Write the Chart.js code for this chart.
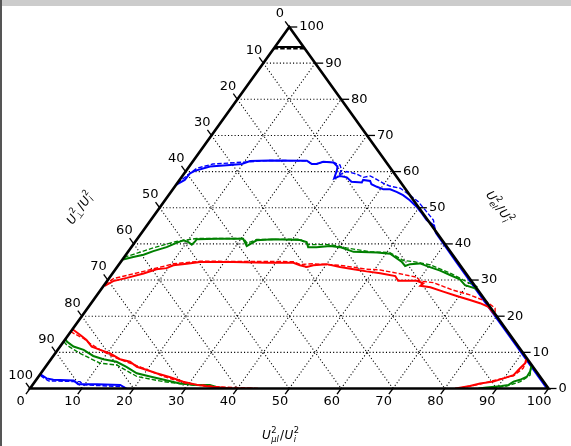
<!DOCTYPE html>
<html><head><meta charset="utf-8">
<script src="https://cdn.jsdelivr.net/npm/chart.js@4.4.0/dist/chart.umd.min.js"></script>
<style>
html,body{margin:0;padding:0;background:#fff;}
#wrap{position:relative;width:571px;height:446px;overflow:hidden;background:#fff;}
#topbar{position:absolute;left:0;top:0;width:571px;height:6px;background:#cccccc;}
#leftbar{position:absolute;left:0;top:0;width:2px;height:446px;background:#555555;}
canvas{position:absolute;left:0;top:0;}
</style></head><body>
<div id="wrap"><canvas id="c" width="571" height="446"></canvas><div id="topbar"></div><div id="leftbar"></div></div>
<script>
// ternary data: each point = [U2_mul/Ui2 (bottom axis, %), U2_el/Ui2 (right axis, %)]
const tickValues = [0,10,20,30,40,50,60,70,80,90,100];
const tickLabels = ['0','10','20','30','40','50','60','70','80','90','100'];
const gridValues = [10,20,30,40,50,60,70,80,90];

const blackSolid = [[0,94.5],[5.5,94.5]];
const blackDashed = [[0,94.0],[6.0,94.0]];

const blueSolidUpper = [[0,56.3],[1.0,57.7],[1.1,59.5],[1.7,60.2],[4.0,61.4],[7.7,61.8],[9.8,62.1],[11.0,62.9],[14.7,63.1],[21.9,63.0],[23.3,62.1],[24.2,62.1],[25.2,62.7],[27.3,62.5],[28.6,61.4],[29.0,60.4],[29.6,58.1],[30.4,58.8],[31.9,58.4],[33.4,57.2],[35.5,57.0],[35.4,57.7],[36.9,57.4],[37.6,56.5],[39.0,55.8],[40.6,55.1],[41.9,55.1],[43.5,54.4],[45.2,53.5],[47.2,52.1],[49.4,50.3],[51.3,48.5],[53.2,46.6],[55.2,45.2],[56.8,43.0],[64.7,35.0],[74.7,25.0],[84.7,15.0],[94.7,5.0],[99.4,0.3]];
const blueSolidLeft = [[18.6,0],[16.9,1.0],[12.3,1.2],[8.7,1.2],[7.3,2.2],[3.3,2.4],[1.8,2.8],[0.4,3.7],[0,4.0]];
const blueDashedUpper = [[0,56.8],[0.8,58.8],[1.7,60.9],[4.2,62.1],[8.6,62.5],[11.1,62.7],[14.7,63.1],[21.9,63.0],[23.3,62.1],[24.2,62.1],[25.2,62.7],[27.3,62.5],[28.9,61.8],[29.9,60.4],[30.0,59.0],[31.1,60.0],[33.4,59.3],[35.1,58.4],[36.2,58.8],[37.5,58.1],[39.7,56.8],[41.4,56.0],[43.7,55.4],[46.5,53.5],[49.0,51.7],[51.5,49.4],[54.5,46.6],[56.7,43.1]];
const blueDashedLeft = [[18.5,0],[17.7,0.5],[9.8,1.0],[8.7,1.9],[2.5,2.1],[0.6,3.3],[0,3.8]];

const greenSolidUpper = [[0.1,35.7],[1.7,36.4],[3.4,37.0],[4.8,38.0],[6.8,39.1],[8.1,40.3],[9.1,41.0],[10.3,40.5],[11.3,39.8],[11.5,40.7],[11.5,41.3],[15.3,41.4],[20.4,41.4],[22.1,39.4],[23.2,41.0],[26.3,41.3],[31.5,41.1],[33.1,40.5],[34.1,39.1],[35.7,39.1],[38.2,39.4],[40.2,39.1],[41.8,38.5],[43.5,37.8],[48.1,37.6],[50.8,37.3],[54.1,35.1],[55.4,33.9],[56.1,34.4],[57.9,34.6],[60.0,33.7],[62.8,32.6],[65.3,31.4],[67.8,30.2],[69.6,28.6],[72.0,27.7],[72.6,27.3]];
const greenSolidRight = [[93.5,6.5],[94.1,4.7],[94.2,3.3],[93.3,2.4],[92.3,1.9],[91.8,1.0],[90.6,0.7],[89.4,0.5],[87.9,0.3],[86.8,0.1],[86.5,0]];
const greenSolidLeft = [[36.6,0.1],[34.2,1.0],[31.7,1.0],[28.2,1.4],[24.4,2.5],[21.5,3.3],[18.5,4.2],[15.6,6.0],[13.0,7.4],[10.1,8.1],[7.7,9.0],[5.0,10.7],[2.6,11.6],[0.6,13.0],[0,13.7]];
const greenDashedUpper = [[0,36.3],[1.4,37.1],[4.3,38.9],[7.9,40.7],[11.4,41.5],[20.4,41.5],[21.8,40.2],[23.1,41.2],[31.4,41.3],[33.8,39.8],[38.0,39.8],[41.6,38.9],[46.7,37.8],[50.6,37.6],[54.3,35.4],[56.4,35.1],[60.1,34.2],[65.1,31.9],[68.6,30.0],[70.3,29.1],[72.1,28.2],[72.3,27.7]];
const greenDashedRight = [[93.5,6.3],[94.6,3.7],[93.6,1.9],[91.6,0.7],[89.8,0.3],[88.5,0]];
const greenDashedLeft = [[38,0],[35.8,0.5],[30.4,1.0],[24.8,1.9],[19.0,3.3],[13.5,6.5],[10.0,7.0],[4.8,9.7],[1.1,12.0],[0,13.0]];

const redSolidUpper = [[0.2,28.4],[1.2,29.7],[3.4,30.6],[6.0,31.8],[7.9,33.0],[9.7,33.3],[10.6,34.1],[13.0,34.5],[15.3,35.0],[21.7,35.0],[28.3,34.8],[33.4,34.8],[35.0,34.1],[36.6,33.6],[37.6,34.1],[40.0,34.4],[43.0,33.6],[45.9,33.0],[48.7,32.4],[51.6,31.9],[54.9,31.1],[56.1,29.8],[59.7,29.8],[61.3,29.1],[61.1,28.4],[63.2,28.0],[66.3,26.8],[69.5,25.6],[72.6,24.5],[75.0,23.6],[77.1,22.6],[79.7,20.2]];
const redSolidRight = [[91.6,8.3],[92.0,7.0],[91.7,5.6],[91.4,3.7],[89.9,2.8],[88.4,1.9],[86.1,1.4],[84.5,0.7],[82.3,0.1],[82,0]];
const redSolidLeft = [[43,0],[38.5,0.1],[34.5,0.5],[31.7,1.0],[28.6,1.9],[25.5,3.1],[22.3,4.2],[20.0,5.1],[17.6,6.0],[15.6,7.4],[13.3,8.1],[10.6,9.7],[8.2,10.7],[6.1,11.6],[4.2,13.4],[2.3,14.8],[0.3,16.2],[0,16.4]];
const redDashedUpper = [[0,28.8],[0.9,30.4],[5.7,32.4],[10.4,34.5],[15.2,35.2],[33.2,35.1],[34.9,34.3],[37.4,34.5],[42.7,34.1],[48.4,33.0],[51.1,32.8],[54.8,31.9],[59.2,30.8],[60.4,29.7],[63.1,29.3],[68.0,27.2],[71.9,25.9],[76.1,24.0],[78.6,22.2],[79.5,20.4]];
const redDashedRight = [[91.9,7.9],[92.3,5.6],[91.5,3.5],[88.8,2.4],[86.2,1.2],[83.4,0.3],[82.5,0]];
const redDashedLeft = [[44,0],[35.8,0.5],[29.5,1.4],[24.1,3.3],[18.2,6.0],[12.5,8.4],[9.0,10.2],[5.3,12.5],[3.3,13.9],[0.7,15.3],[0,15.8]];

const seriesDefs = [
  {segs:[redSolidUpper,redSolidRight,redSolidLeft], color:'#ff0000', dashed:false, order:0},
  {segs:[redDashedUpper,redDashedRight,redDashedLeft], color:'#ff0000', dashed:true, order:1},
  {segs:[greenSolidUpper,greenSolidRight,greenSolidLeft], color:'#008000', dashed:false, order:2},
  {segs:[greenDashedUpper,greenDashedRight,greenDashedLeft], color:'#008000', dashed:true, order:3},
  {segs:[blueSolidUpper,blueSolidLeft], color:'#0000ff', dashed:false, order:4},
  {segs:[blueDashedUpper,blueDashedLeft], color:'#0000ff', dashed:true, order:5},
  {segs:[blackSolid], color:'#000000', dashed:false, order:6},
  {segs:[blackDashed], color:'#000000', dashed:true, order:7}
];

const toXY = arr => arr.map(([m,e]) => ({x: m + e/2, y: e}));
const datasets = [];
seriesDefs.forEach(s => s.segs.forEach(seg => datasets.push({
  data: toXY(seg), borderColor: s.color, borderWidth: s.dashed ? 1.4 : 2.0,
  borderDash: s.dashed ? [4.5,2] : [], pointRadius: 0, tension: 0, fill: false,
  showLine: true, order: s.order
})));

function drawMath(ctx, tokens, cx, cy, rot, size){
  const mainI = `italic ${size}px "DejaVu Sans"`, mainN = `${size}px "DejaVu Sans"`;
  const ss = size*0.7;
  const smallI = `italic ${ss}px "DejaVu Sans"`, smallN = `${ss}px "DejaVu Sans"`;
  const fontFor = (t, small) => /[0-9\/]/.test(t) ? (small?smallN:mainN) : (small?smallI:mainI);
  let w = 0; const items = [];
  tokens.forEach(tk => {
    if (tk.b !== undefined){ ctx.font = fontFor(tk.b,false); const tw = ctx.measureText(tk.b).width; items.push({t:tk.b, x:w, dy:0, f:fontFor(tk.b,false)}); w += tw + 0.5; }
    else { ctx.font = fontFor(tk.sup,true); const w1 = ctx.measureText(tk.sup).width; ctx.font = fontFor(tk.sub,true); const w2 = ctx.measureText(tk.sub).width;
      items.push({t:tk.sup, x:w, dy:-size*0.42, f:fontFor(tk.sup,true)});
      items.push({t:tk.sub, x:w, dy:size*0.3, f:fontFor(tk.sub,true)});
      w += Math.max(w1,w2) + 1; }
  });
  ctx.save(); ctx.translate(cx, cy); ctx.rotate(rot); ctx.fillStyle = '#000'; ctx.textBaseline = 'middle'; ctx.textAlign = 'left';
  items.forEach(it => { ctx.font = it.f; ctx.fillText(it.t, it.x - w/2, it.dy); });
  ctx.restore();
}

const ternaryPlugin = {
  id: 'ternary',
  beforeDatasetsDraw(chart){
    const ctx = chart.ctx, sx = chart.scales.x, sy = chart.scales.y;
    const P = (m,e) => [sx.getPixelForValue(m + e/2), sy.getPixelForValue(e)];
    const line = (a,b) => { ctx.beginPath(); ctx.moveTo(a[0],a[1]); ctx.lineTo(b[0],b[1]); ctx.stroke(); };
    ctx.save(); ctx.strokeStyle = '#000'; ctx.lineWidth = 1.1; ctx.setLineDash([1.1,2.2]);
    gridValues.forEach(v => {
      line(P(0,v), P(100-v,v));
      line(P(v,0), P(v,100-v));
      line(P(0,100-v), P(100-v,0));
    });
    ctx.restore();
  },
  afterDatasetsDraw(chart){
    const ctx = chart.ctx, sx = chart.scales.x, sy = chart.scales.y;
    const P = (m,e) => [sx.getPixelForValue(m + e/2), sy.getPixelForValue(e)];
    const unit = (a,b) => { const dx=a[0]-b[0], dy=a[1]-b[1], l=Math.hypot(dx,dy); return [dx/l, dy/l]; };
    ctx.save();
    ctx.strokeStyle = '#000'; ctx.lineWidth = 2.6; ctx.lineJoin = 'miter';
    const A = P(0,0), B = P(100,0), C = P(0,100);
    ctx.beginPath(); ctx.moveTo(A[0],A[1]); ctx.lineTo(B[0],B[1]); ctx.lineTo(C[0],C[1]); ctx.closePath(); ctx.stroke();
    ctx.lineWidth = 1.3; ctx.fillStyle = '#000'; ctx.font = '13px "DejaVu Sans"';
    tickValues.forEach((v,i) => {
      let p = P(v,0), d = unit(P(v,0), P(v,10));
      ctx.beginPath(); ctx.moveTo(p[0],p[1]); ctx.lineTo(p[0]+7*d[0], p[1]+7*d[1]); ctx.stroke();
      ctx.textAlign='center'; ctx.textBaseline='middle';
      ctx.fillText(tickLabels[i], p[0]+16*d[0], p[1]+16*d[1]);
      p = P(0,100-v); d = unit(P(0,100-v), P(10,90-v));
      ctx.beginPath(); ctx.moveTo(p[0],p[1]); ctx.lineTo(p[0]+7*d[0], p[1]+7*d[1]); ctx.stroke();
      ctx.fillText(tickLabels[i], p[0]+16*d[0], p[1]+16*d[1]);
      p = P(100-v, v);
      ctx.beginPath(); ctx.moveTo(p[0],p[1]); ctx.lineTo(p[0]+8, p[1]); ctx.stroke();
      ctx.textAlign='left';
      ctx.fillText(tickLabels[i], p[0]+10, p[1]);
    });
    ctx.restore();
    const ang = Math.atan2(A[1]-C[1], C[0]-A[0]);
    drawMath(ctx, [{b:'U'},{sup:'2',sub:'μl'},{b:'/'},{b:'U'},{sup:'2',sub:'i'}], 281, 436, 0, 12);
    drawMath(ctx, [{b:'U'},{sup:'2',sub:'⊥'},{b:'/'},{b:'U'},{sup:'2',sub:'i'}], 81, 208, -ang, 12);
    drawMath(ctx, [{b:'U'},{sup:'2',sub:'el'},{b:'/'},{b:'U'},{sup:'2',sub:'i'}], 499, 208, ang, 12);
  }
};

new Chart(document.getElementById('c'), {
  type: 'scatter',
  data: { datasets },
  options: {
    responsive: false, animation: false, devicePixelRatio: 1,
    layout: { padding: { left: 30, right: 22.5, top: 27, bottom: 57.5 } },
    plugins: { legend: { display: false }, tooltip: { enabled: false } },
    scales: {
      x: { type: 'linear', min: 0, max: 100, display: false },
      y: { type: 'linear', min: 0, max: 100, display: false }
    },
    elements: { line: { borderCapStyle: 'butt' } }
  },
  plugins: [ternaryPlugin]
});
</script></body></html>
